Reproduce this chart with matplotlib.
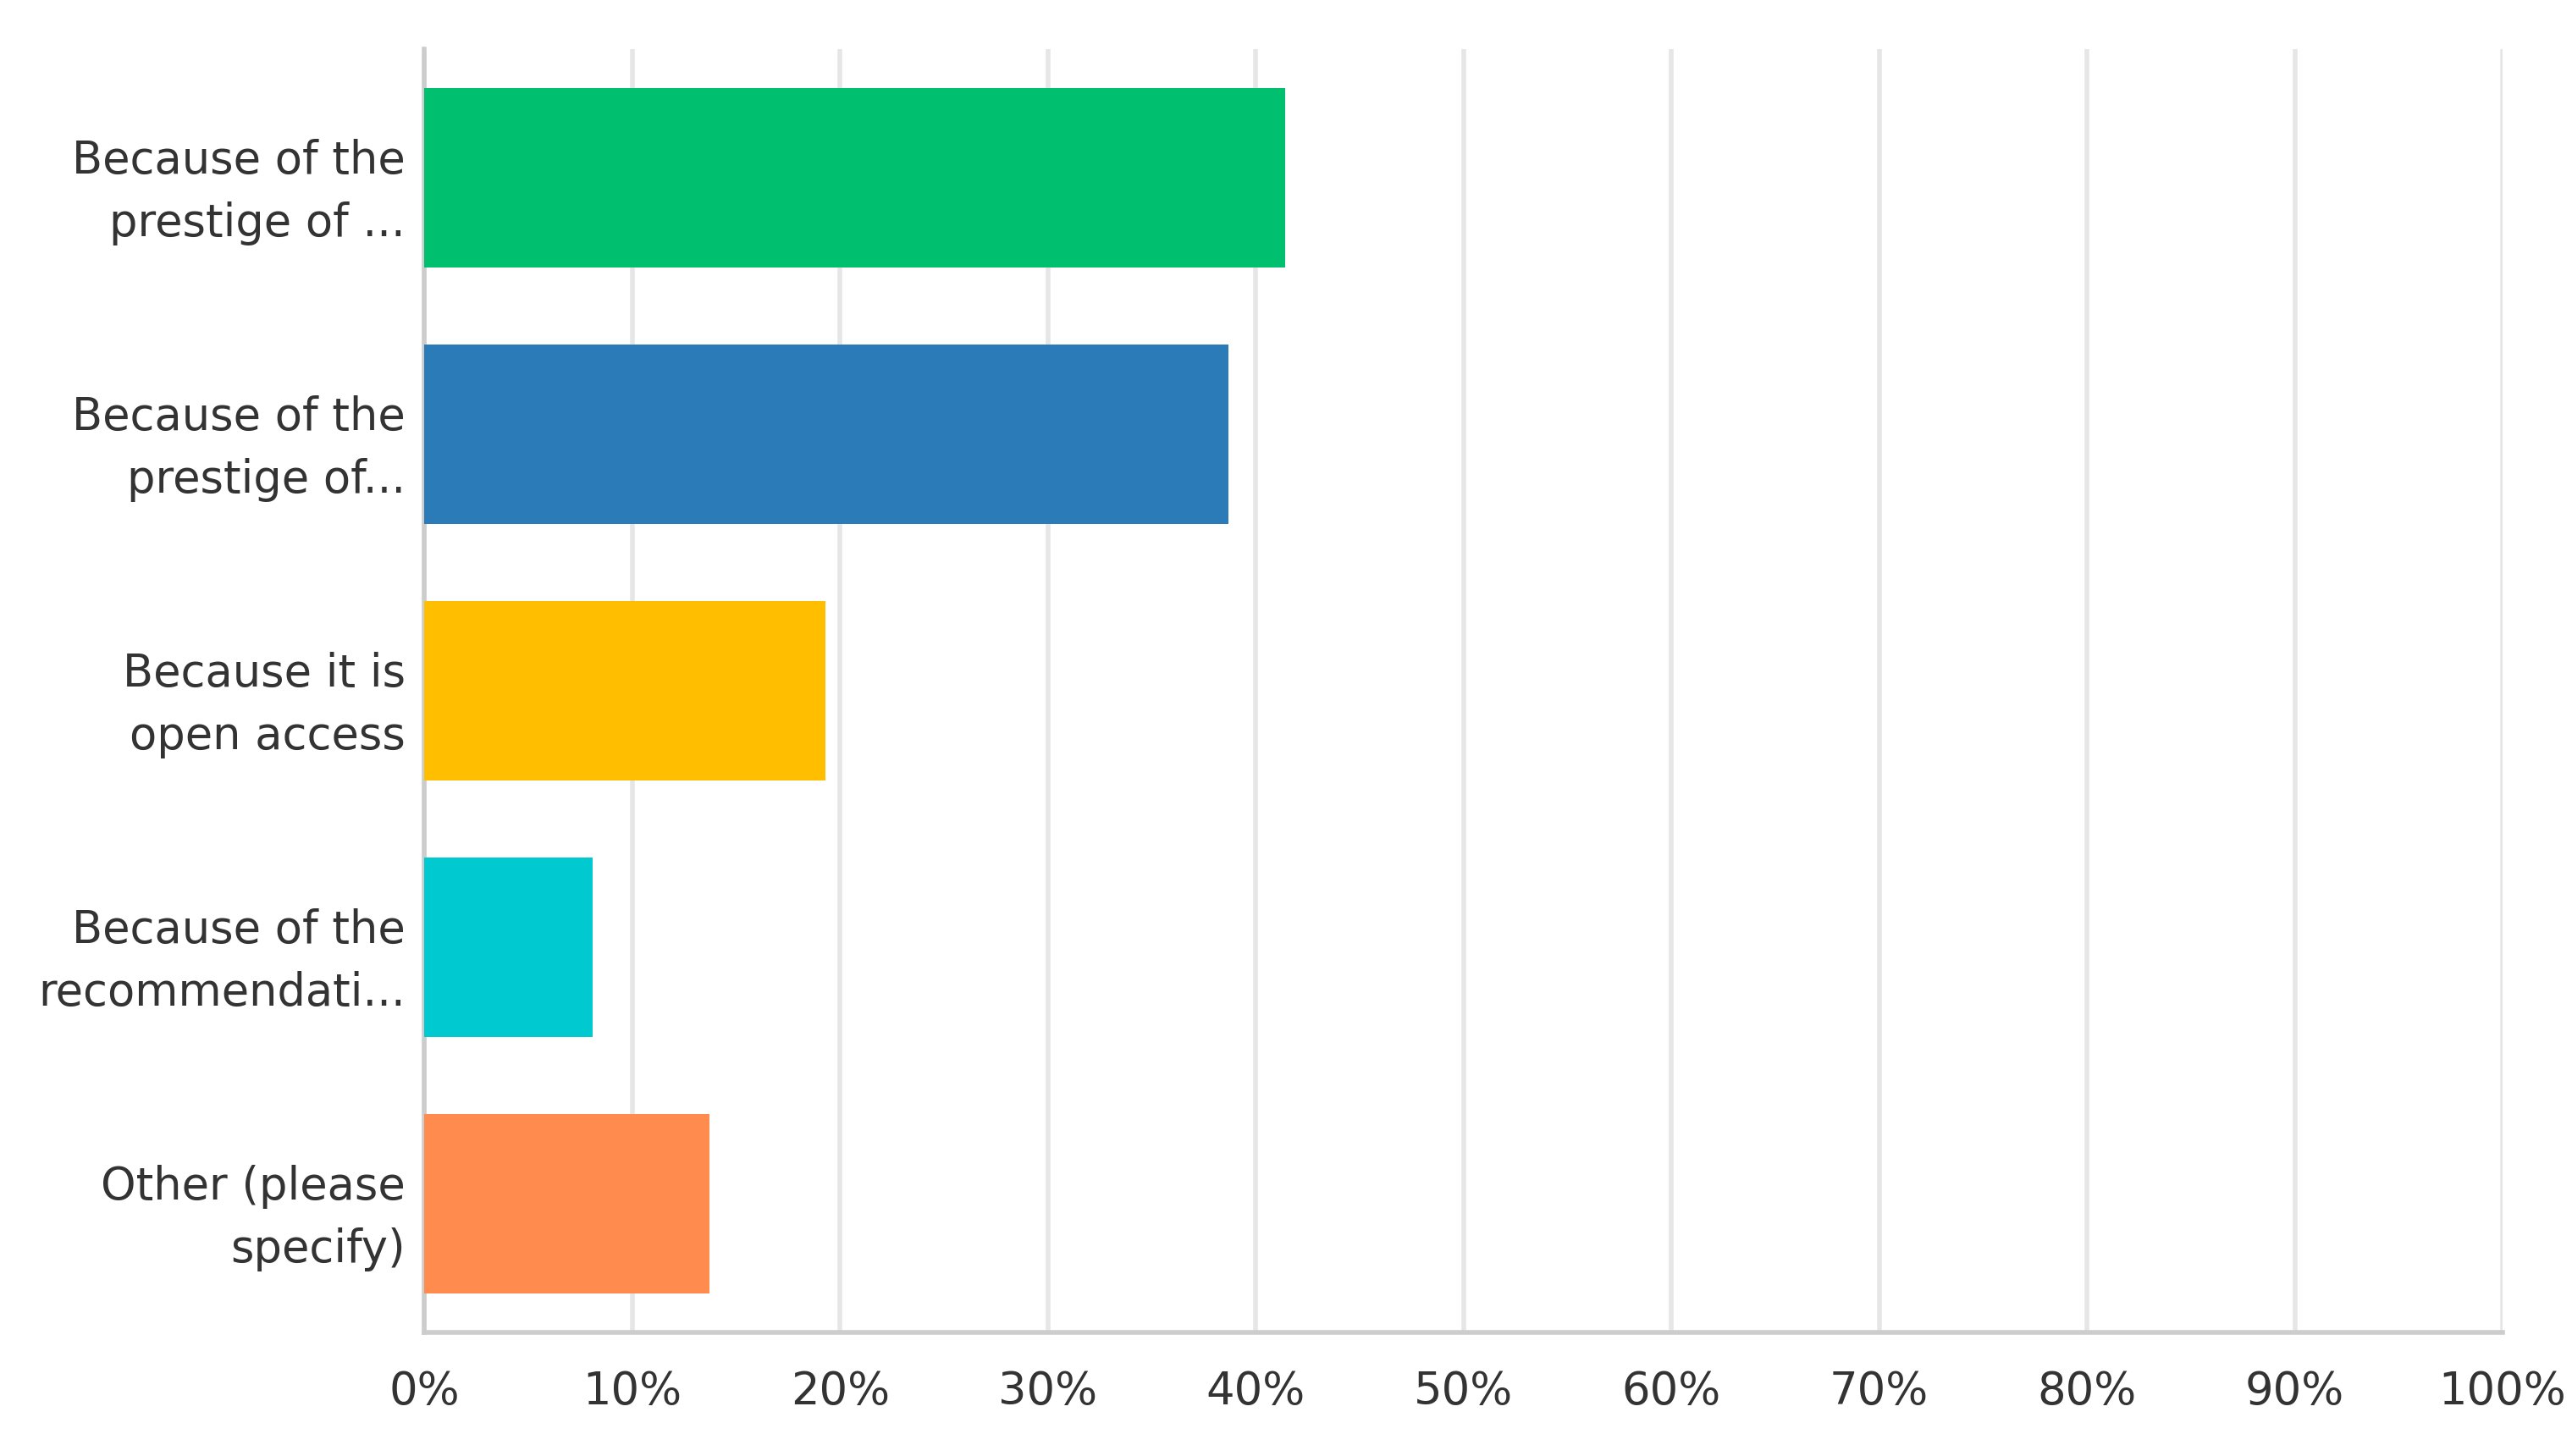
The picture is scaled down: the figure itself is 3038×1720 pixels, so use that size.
import matplotlib.pyplot as plt
import numpy as np

categories = ["Because of the\nprestige of ...", "Because of the\nprestige of...",
              "Because it is\nopen access", "Because of the\nrecommendati...",
              "Other (please\nspecify)"]
values = [41.4, 38.7, 19.3, 8.1, 13.7]
colors = ["#00bf6f", "#2b7bb9", "#ffbf00", "#00c9cf", "#ff8b4f"]
ticks = list(range(0, 101, 10))
tick_labels = [f"{t}%" for t in ticks]

fig = plt.figure(figsize=(15.19, 8.6), dpi=200)
ax = fig.add_axes([0.165, 0.085, 0.808, 0.881])

y = np.arange(len(categories))
ax.barh(y, values, height=0.7, color=colors, zorder=3)
ax.set_ylim(len(categories) - 0.5, -0.5)
ax.set_xlim(0, 100)
ax.set_xticks(ticks)
ax.set_xticklabels(tick_labels)
ax.set_yticks(y)
ax.set_yticklabels(categories, ha="right", multialignment="right", linespacing=1.55)
ax.tick_params(axis="both", length=0, labelsize=19, colors="#333333")
ax.tick_params(axis="x", pad=16)
ax.tick_params(axis="y", pad=8)
ax.grid(axis="x", color="#e6e6e6", linewidth=2, zorder=0)
for s in ["top", "right"]:
    ax.spines[s].set_visible(False)
for s in ["left", "bottom"]:
    ax.spines[s].set_color("#cccccc")
    ax.spines[s].set_linewidth(2)

fig.savefig("out.png", dpi=200)
